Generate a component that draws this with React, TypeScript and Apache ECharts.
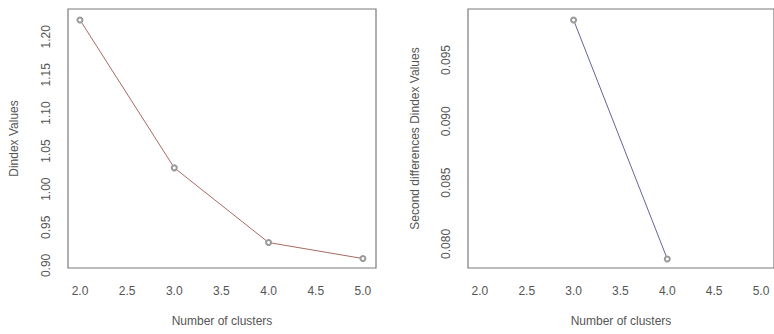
import React, { useEffect, useRef } from "react";
import * as echarts from "echarts";

const clusters = [2, 3, 4, 5];
const dindexValues = [1.222, 1.028, 0.93, 0.909];
const secondClusters = [3, 4];
const secondDiffValues = [0.09826, 0.07878];
const xTicks = [2.0, 2.5, 3.0, 3.5, 4.0, 4.5, 5.0];
const leftYTicks = [0.9, 0.95, 1.0, 1.05, 1.1, 1.15, 1.2];
const rightYTicks = [0.08, 0.085, 0.09, 0.095];

const TEXT = "#555";
const FONT = "Liberation Sans, Arial, sans-serif";

export default function App() {
  const ref = useRef<HTMLDivElement>(null);
  useEffect(() => {
    const chart = echarts.init(ref.current!, null, { renderer: "svg" });
    const xAxisBase = (gridIndex: number) => ({
      type: "value",
      gridIndex,
      min: 1.873,
      max: 5.139,
      splitLine: { show: false },
      axisLine: { show: false },
      axisTick: { show: false },
      axisLabel: {
        customValues: xTicks,
        formatter: (v: number) => v.toFixed(1),
        color: TEXT,
        fontSize: 12,
        fontFamily: FONT,
        margin: 17,
      },
      name: "Number of clusters",
      nameLocation: "middle",
      nameGap: 47,
      nameTextStyle: { color: TEXT, fontSize: 12, fontFamily: FONT },
    });
    const yAxisBase = (gridIndex: number, min: number, max: number, ticks: number[], dec: number, name: string, gap: number) => ({
      type: "value",
      gridIndex,
      min,
      max,
      splitLine: { show: false },
      axisLine: { show: false },
      axisTick: { show: false },
      axisLabel: {
        customValues: ticks,
        formatter: (v: number) => v.toFixed(dec),
        rotate: 90,
        color: TEXT,
        fontSize: 12,
        fontFamily: FONT,
        margin: 16,
      },
      name,
      nameLocation: "middle",
      nameGap: gap,
      nameTextStyle: { color: TEXT, fontSize: 12, fontFamily: FONT },
    });
    chart.setOption({
      animation: false,
      backgroundColor: "#fff",
      grid: [
        { left: 68, top: 9, width: 308, height: 259, show: true, borderColor: "#7a7a7a", borderWidth: 1.2, backgroundColor: "transparent" },
        { left: 468, top: 9, width: 308, height: 259, show: true, borderColor: "#7a7a7a", borderWidth: 1.2, backgroundColor: "transparent" },
      ],
      xAxis: [xAxisBase(0), xAxisBase(1)],
      yAxis: [
        yAxisBase(0, 0.8966, 1.2364, leftYTicks, 2, "Dindex Values", 48),
        yAxisBase(1, 0.07804, 0.09916, rightYTicks, 3, "Second differences Dindex Values", 47),
      ],
      series: [
        {
          type: "line",
          xAxisIndex: 0,
          yAxisIndex: 0,
          data: clusters.map((c, i) => [c, dindexValues[i]]),
          symbol: "emptyCircle",
          symbolSize: 5,
          lineStyle: { color: "#a86a62", width: 1 },
          itemStyle: { color: "#999", borderColor: "#999", borderWidth: 1 },
        },
        {
          type: "line",
          xAxisIndex: 1,
          yAxisIndex: 1,
          data: secondClusters.map((c, i) => [c, secondDiffValues[i]]),
          symbol: "emptyCircle",
          symbolSize: 5,
          lineStyle: { color: "#62659a", width: 1 },
          itemStyle: { color: "#999", borderColor: "#999", borderWidth: 1 },
        },
      ],
    });
    return () => chart.dispose();
  }, []);
  return <div ref={ref} style={{ width: 774, height: 334, position: "fixed", left: 0, top: 0 }} />;
}
